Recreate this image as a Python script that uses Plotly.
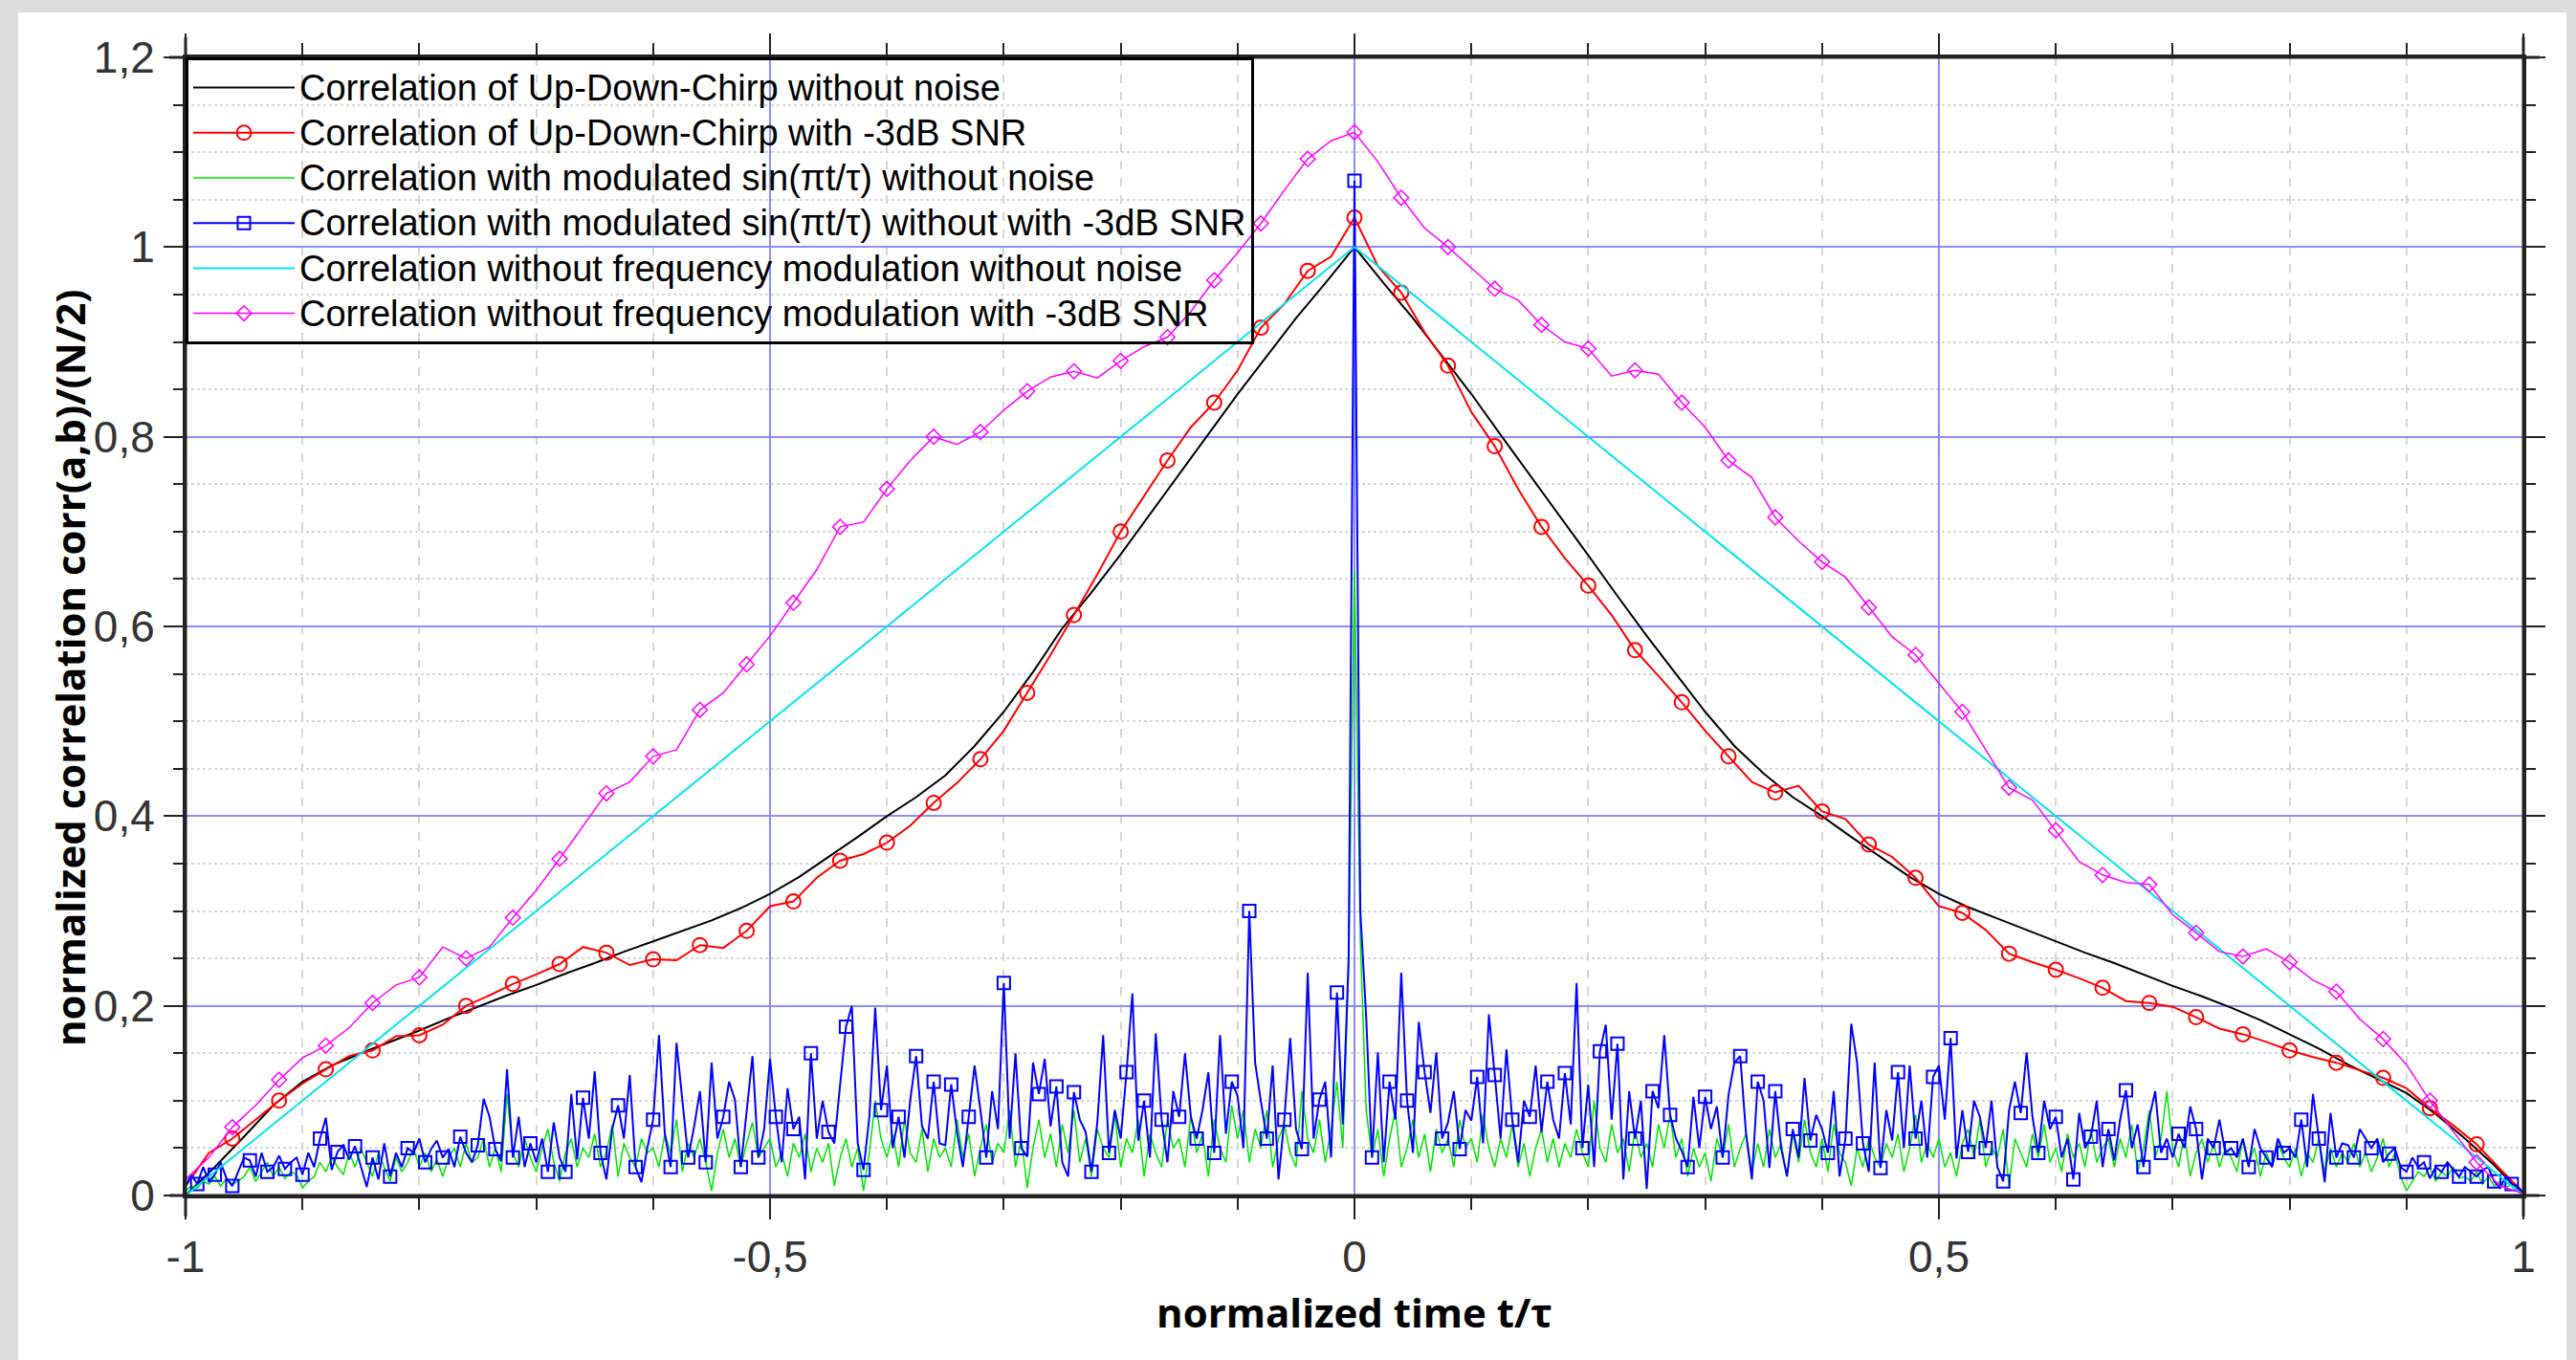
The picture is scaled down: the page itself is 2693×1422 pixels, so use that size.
import plotly.graph_objects as go

# ---------------- data ----------------
X_STEP_COARSE = 0.02
X_STEP_FINE = 0.005
X_STEP_BLACK = 0.025

black_noise_free = [
    0.000, 0.030, 0.062, 0.095, 0.120, 0.137, 0.150, 0.162, 0.174, 0.187,
    0.199, 0.211, 0.222, 0.234, 0.245, 0.257, 0.268, 0.279, 0.290, 0.303,
    0.318, 0.336, 0.357, 0.378, 0.400, 0.420, 0.443, 0.474, 0.510, 0.552,
    0.598, 0.636, 0.676, 0.718, 0.760, 0.802, 0.845, 0.885, 0.925, 0.962,
    1.000,
    0.962, 0.925, 0.885, 0.845, 0.802, 0.760, 0.718, 0.675, 0.632, 0.590,
    0.550, 0.510, 0.474, 0.445, 0.420, 0.400, 0.378, 0.357, 0.336, 0.318,
    0.304, 0.292, 0.280, 0.268, 0.256, 0.245, 0.233, 0.221, 0.210, 0.198,
    0.185, 0.170, 0.155, 0.138, 0.123, 0.108, 0.086, 0.060, 0.032, 0.000,
]

red_noisy = [
    0.010, 0.045, 0.060, 0.080, 0.100, 0.118, 0.133, 0.147, 0.153, 0.168,
    0.169, 0.180, 0.200, 0.211, 0.223, 0.233, 0.244, 0.262, 0.256, 0.243,
    0.249, 0.248, 0.264, 0.261, 0.279, 0.305, 0.310, 0.335, 0.353, 0.360,
    0.372, 0.390, 0.414, 0.435, 0.460, 0.490, 0.530, 0.570, 0.612, 0.655,
    0.700, 0.738, 0.775, 0.810, 0.836, 0.870, 0.915, 0.940, 0.975, 0.990,
    1.031,
    0.980, 0.952, 0.910, 0.875, 0.826, 0.790, 0.745, 0.705, 0.672, 0.643,
    0.612, 0.575, 0.548, 0.520, 0.490, 0.463, 0.436, 0.425, 0.432, 0.405,
    0.397, 0.370, 0.357, 0.335, 0.305, 0.298, 0.280, 0.255, 0.246, 0.238,
    0.229, 0.219, 0.205, 0.203, 0.199, 0.188, 0.176, 0.170, 0.162, 0.153,
    0.146, 0.140, 0.132, 0.124, 0.113, 0.092, 0.074, 0.054, 0.028, 0.003,
]

magenta_noisy = [
    0.017, 0.040, 0.072, 0.095, 0.122, 0.145, 0.158, 0.177, 0.203, 0.222,
    0.230, 0.262, 0.250, 0.262, 0.293, 0.322, 0.355, 0.390, 0.424, 0.436,
    0.463, 0.470, 0.512, 0.530, 0.560, 0.590, 0.625, 0.660, 0.705, 0.710,
    0.745, 0.775, 0.800, 0.792, 0.805, 0.828, 0.848, 0.863, 0.869, 0.862,
    0.880, 0.895, 0.905, 0.932, 0.965, 0.994, 1.025, 1.060, 1.093, 1.112,
    1.121,
    1.090, 1.052, 1.020, 1.000, 0.978, 0.956, 0.944, 0.918, 0.900, 0.893,
    0.864, 0.870, 0.866, 0.836, 0.810, 0.775, 0.757, 0.715, 0.690, 0.668,
    0.652, 0.620, 0.589, 0.570, 0.540, 0.510, 0.470, 0.430, 0.417, 0.385,
    0.352, 0.338, 0.330, 0.328, 0.296, 0.277, 0.257, 0.252, 0.260, 0.246,
    0.227, 0.215, 0.186, 0.165, 0.138, 0.100, 0.068, 0.035, 0.010, 0.002,
]

cyan_x = [-1.0, 0.0, 1.0]
cyan_noise_free = [0.0, 1.0, 0.0]

blue_noisy = [
    0.010, 0.022, 0.012, 0.030, 0.015, 0.022, 0.035, 0.018, 0.010, 0.025,
    0.040, 0.037, 0.020, 0.045, 0.025, 0.030, 0.042, 0.028, 0.035, 0.040,
    0.022, 0.045, 0.030, 0.060, 0.082, 0.027, 0.046, 0.053, 0.038, 0.052,
    0.030, 0.009, 0.040, 0.017, 0.055, 0.020, 0.045, 0.030, 0.050, 0.045,
    0.060, 0.035, 0.049, 0.058, 0.040, 0.049, 0.030, 0.062, 0.045, 0.035,
    0.053, 0.102, 0.083, 0.049, 0.036, 0.133, 0.040, 0.083, 0.030, 0.055,
    0.035, 0.060, 0.025, 0.077, 0.040, 0.025, 0.107, 0.038, 0.103, 0.060,
    0.131, 0.045, 0.017, 0.070, 0.095, 0.060, 0.127, 0.030, 0.014, 0.050,
    0.080, 0.169, 0.065, 0.030, 0.161, 0.101, 0.040, 0.072, 0.110, 0.035,
    0.140, 0.060, 0.083, 0.120, 0.101, 0.030, 0.090, 0.147, 0.040, 0.070,
    0.144, 0.083, 0.035, 0.113, 0.070, 0.083, 0.017, 0.150, 0.060, 0.100,
    0.067, 0.055, 0.117, 0.178, 0.200, 0.055, 0.027, 0.083, 0.198, 0.090,
    0.137, 0.050, 0.083, 0.040, 0.101, 0.147, 0.073, 0.060, 0.120, 0.055,
    0.053, 0.117, 0.067, 0.030, 0.083, 0.137, 0.090, 0.040, 0.110, 0.070,
    0.224, 0.060, 0.150, 0.050, 0.041, 0.140, 0.107, 0.144, 0.073, 0.115,
    0.035, 0.020, 0.109, 0.080, 0.067, 0.025, 0.077, 0.169, 0.045, 0.090,
    0.060, 0.130, 0.213, 0.058, 0.100, 0.040, 0.171, 0.080, 0.035, 0.110,
    0.083, 0.150, 0.083, 0.060, 0.090, 0.130, 0.045, 0.169, 0.065, 0.120,
    0.105, 0.050, 0.300, 0.140, 0.099, 0.060, 0.137, 0.017, 0.080, 0.166,
    0.070, 0.049, 0.235, 0.060, 0.101, 0.120, 0.040, 0.214, 0.075, 0.250,
    1.070, 0.300, 0.188, 0.040, 0.151, 0.035, 0.120, 0.080, 0.235, 0.100,
    0.045, 0.183, 0.130, 0.087, 0.151, 0.060, 0.077, 0.110, 0.049, 0.090,
    0.079, 0.125, 0.055, 0.191, 0.127, 0.060, 0.154, 0.080, 0.035, 0.100,
    0.083, 0.137, 0.067, 0.120, 0.080, 0.060, 0.129, 0.075, 0.224, 0.050,
    0.117, 0.030, 0.152, 0.180, 0.080, 0.160, 0.017, 0.110, 0.060, 0.100,
    0.007, 0.110, 0.092, 0.169, 0.085, 0.060, 0.047, 0.030, 0.104, 0.050,
    0.104, 0.070, 0.094, 0.040, 0.106, 0.140, 0.147, 0.065, 0.017, 0.120,
    0.100, 0.029, 0.110, 0.050, 0.020, 0.070, 0.040, 0.124, 0.058, 0.085,
    0.070, 0.045, 0.110, 0.020, 0.060, 0.181, 0.140, 0.055, 0.025, 0.140,
    0.029, 0.090, 0.058, 0.130, 0.050, 0.137, 0.060, 0.100, 0.040, 0.125,
    0.137, 0.080, 0.166, 0.039, 0.090, 0.046, 0.100, 0.083, 0.050, 0.100,
    0.030, 0.015, 0.090, 0.120, 0.087, 0.151, 0.083, 0.045, 0.100, 0.070,
    0.083, 0.040, 0.060, 0.017, 0.087, 0.050, 0.062, 0.100, 0.030, 0.070,
    0.037, 0.080, 0.111, 0.050, 0.075, 0.030, 0.082, 0.110, 0.045, 0.060,
    0.040, 0.065, 0.050, 0.094, 0.070, 0.017, 0.060, 0.050, 0.080, 0.045,
    0.050, 0.040, 0.060, 0.030, 0.070, 0.050, 0.040, 0.030, 0.060, 0.045,
    0.050, 0.040, 0.080, 0.030, 0.107, 0.060, 0.014, 0.087, 0.040, 0.055,
    0.053, 0.040, 0.070, 0.060, 0.050, 0.060, 0.035, 0.044, 0.050, 0.030,
    0.025, 0.040, 0.030, 0.035, 0.018, 0.030, 0.025, 0.035, 0.028, 0.020,
    0.030, 0.025, 0.020, 0.027, 0.030, 0.015, 0.008, 0.020, 0.012, 0.010,
    0.002,
]

green_noise_free = [
    0.005, 0.010, 0.008, 0.015, 0.012, 0.020, 0.010, 0.018, 0.012, 0.015,
    0.020, 0.030, 0.015, 0.025, 0.035, 0.020, 0.030, 0.018, 0.025, 0.022,
    0.008, 0.015, 0.020, 0.035, 0.025, 0.040, 0.030, 0.022, 0.045, 0.030,
    0.050, 0.035, 0.020, 0.045, 0.030, 0.015, 0.040, 0.025, 0.035, 0.050,
    0.030, 0.045, 0.025, 0.038, 0.020, 0.040, 0.050, 0.030, 0.055, 0.035,
    0.040, 0.060, 0.030, 0.050, 0.025, 0.107, 0.045, 0.030, 0.060, 0.040,
    0.025, 0.050, 0.070, 0.035, 0.015, 0.045, 0.060, 0.030, 0.050, 0.040,
    0.065, 0.030, 0.045, 0.075, 0.020, 0.055, 0.040, 0.030, 0.060, 0.045,
    0.050, 0.030, 0.065, 0.045, 0.080, 0.025, 0.055, 0.040, 0.060, 0.035,
    0.005, 0.045, 0.070, 0.040, 0.060, 0.030, 0.055, 0.077, 0.040, 0.050,
    0.060, 0.030, 0.045, 0.020, 0.055, 0.040, 0.065, 0.025, 0.050, 0.035,
    0.055, 0.010, 0.040, 0.060, 0.030, 0.050, 0.005, 0.045, 0.100, 0.060,
    0.040, 0.065, 0.030, 0.080, 0.045, 0.035, 0.070, 0.025, 0.060, 0.040,
    0.050, 0.030, 0.080, 0.040, 0.065, 0.020, 0.050, 0.075, 0.035, 0.055,
    0.045, 0.090, 0.030, 0.060, 0.008, 0.050, 0.080, 0.040, 0.065, 0.030,
    0.075, 0.045, 0.090, 0.035, 0.060, 0.020, 0.070, 0.050, 0.040, 0.085,
    0.030, 0.060, 0.045, 0.080, 0.020, 0.065, 0.045, 0.030, 0.080, 0.050,
    0.060, 0.030, 0.085, 0.045, 0.065, 0.020, 0.080, 0.050, 0.035, 0.095,
    0.060, 0.090, 0.035, 0.070, 0.050, 0.090, 0.030, 0.060, 0.075, 0.045,
    0.030, 0.110, 0.060, 0.045, 0.080, 0.035, 0.070, 0.120, 0.050, 0.240,
    0.660, 0.270, 0.090, 0.040, 0.070, 0.020, 0.060, 0.090, 0.030, 0.050,
    0.080, 0.040, 0.065, 0.025, 0.070, 0.045, 0.060, 0.030, 0.080, 0.050,
    0.060, 0.035, 0.085, 0.050, 0.030, 0.060, 0.040, 0.075, 0.030, 0.055,
    0.020, 0.050, 0.070, 0.035, 0.060, 0.030, 0.055, 0.040, 0.070, 0.045,
    0.030, 0.100, 0.050, 0.035, 0.075, 0.045, 0.060, 0.025, 0.070, 0.040,
    0.055, 0.030, 0.075, 0.050, 0.085, 0.040, 0.060, 0.020, 0.050, 0.030,
    0.045, 0.015, 0.060, 0.040, 0.075, 0.030, 0.050, 0.065, 0.025, 0.055,
    0.030, 0.070, 0.040, 0.055, 0.020, 0.065, 0.035, 0.080, 0.045, 0.030,
    0.060, 0.025, 0.075, 0.045, 0.035, 0.010, 0.050, 0.030, 0.060, 0.040,
    0.030, 0.055, 0.040, 0.065, 0.025, 0.050, 0.085, 0.035, 0.055, 0.040,
    0.060, 0.030, 0.045, 0.020, 0.055, 0.070, 0.040, 0.080, 0.030, 0.050,
    0.040, 0.070, 0.010, 0.060, 0.045, 0.030, 0.065, 0.040, 0.075, 0.035,
    0.050, 0.025, 0.065, 0.040, 0.055, 0.030, 0.070, 0.035, 0.050, 0.060,
    0.030, 0.060, 0.040, 0.075, 0.025, 0.050, 0.090, 0.040, 0.060, 0.110,
    0.050, 0.030, 0.065, 0.020, 0.045, 0.060, 0.035, 0.055, 0.030, 0.050,
    0.040, 0.025, 0.060, 0.035, 0.050, 0.020, 0.045, 0.030, 0.055, 0.040,
    0.030, 0.050, 0.020, 0.045, 0.035, 0.060, 0.025, 0.050, 0.030, 0.045,
    0.035, 0.055, 0.030, 0.045, 0.025, 0.040, 0.060, 0.030, 0.045, 0.020,
    0.005, 0.015, 0.025, 0.020, 0.030, 0.015, 0.025, 0.020, 0.030, 0.018,
    0.020, 0.015, 0.025, 0.012, 0.020, 0.010, 0.015, 0.008, 0.012, 0.006,
    0.002,
]

series_names = [
    "Correlation of Up-Down-Chirp without noise",
    "Correlation of Up-Down-Chirp with -3dB SNR",
    "Correlation with modulated sin(\u03c0t/\u03c4) without noise",
    "Correlation with modulated sin(\u03c0t/\u03c4) without with -3dB SNR",
    "Correlation without frequency modulation without noise",
    "Correlation without frequency modulation with -3dB SNR",
]

x_tick_vals = [-1, -0.5, 0, 0.5, 1]
x_tick_text = ["-1", "-0,5", "0", "0,5", "1"]
y_tick_vals = [0, 0.2, 0.4, 0.6, 0.8, 1.0, 1.2]
y_tick_text = ["0", "0,2", "0,4", "0,6", "0,8", "1", "1,2"]

x_title = "normalized time t/\u03c4"
y_title = "normalized correlation corr(a,b)/(N/2)"

# ---------------- build x grids ----------------
x_black = [round(-1 + X_STEP_BLACK * i, 4) for i in range(len(black_noise_free))]
x_coarse = [round(-1 + X_STEP_COARSE * i, 4) for i in range(len(red_noisy))]
x_fine = [round(-1 + X_STEP_FINE * i, 4) for i in range(len(blue_noisy))]

coarse_marker_idx = [i for i in range(2, len(x_coarse) - 1, 2)]
fine_marker_idx = [i for i in range(len(x_fine)) if i % 3 == 2]

# ---------------- figure ----------------
W, H = 2693, 1422
L, R, T, B = 194, 55, 60, 172
PW, PH = W - L - R, H - T - B


def px(X):
    return (X - L) / PW


def py(Y):
    return (H - B - Y) / PH


def legend_label(s):
    # legend rows are spaced for a 34px line, text itself drawn at 38px
    return '<span style="font-size:38px">' + s + '</span>'


fig = go.Figure()

fig.add_trace(go.Scatter(
    x=x_black, y=black_noise_free, mode="lines", name=legend_label(series_names[0]),
    line=dict(color="#000000", width=2),
))
fig.add_trace(go.Scatter(
    x=x_coarse, y=red_noisy, mode="lines+markers", name=legend_label(series_names[1]),
    line=dict(color="#ff0000", width=2),
    marker=dict(symbol="circle-open", size=15, color="#ff0000", line=dict(width=2)),
    selectedpoints=coarse_marker_idx,
    selected=dict(marker=dict(opacity=1)),
    unselected=dict(marker=dict(opacity=0)),
))
fig.add_trace(go.Scatter(
    x=x_fine, y=green_noise_free, mode="lines", name=legend_label(series_names[2]),
    line=dict(color="#00e600", width=1.5),
))
fig.add_trace(go.Scatter(
    x=x_fine, y=blue_noisy, mode="lines+markers", name=legend_label(series_names[3]),
    line=dict(color="#0000ff", width=2),
    marker=dict(symbol="square-open", size=13, color="#0000ff", line=dict(width=2)),
    selectedpoints=fine_marker_idx,
    selected=dict(marker=dict(opacity=1)),
    unselected=dict(marker=dict(opacity=0)),
))
fig.add_trace(go.Scatter(
    x=cyan_x, y=cyan_noise_free, mode="lines", name=legend_label(series_names[4]),
    line=dict(color="#00e5ee", width=2),
))
fig.add_trace(go.Scatter(
    x=x_coarse, y=magenta_noisy, mode="lines+markers", name=legend_label(series_names[5]),
    line=dict(color="#ff00ff", width=1.5),
    marker=dict(symbol="diamond-open", size=12, color="#ff00ff", line=dict(width=1.5)),
    selectedpoints=coarse_marker_idx,
    selected=dict(marker=dict(opacity=1)),
    unselected=dict(marker=dict(opacity=0)),
))

axis_color = "#222222"
major_grid = "#8c8cff"
minor_grid = "#d6d6d6"

fig.update_xaxes(
    range=[-1, 1], tickmode="array", tickvals=x_tick_vals, ticktext=x_tick_text,
    ticks="outside", ticklen=22, tickwidth=2, tickcolor=axis_color,
    showline=True, linecolor=axis_color, linewidth=3, mirror="ticks",
    showgrid=True, gridcolor=major_grid, gridwidth=2, zeroline=False,
    minor=dict(dtick=0.1, tick0=0, ticks="outside", ticklen=12, tickwidth=2,
               tickcolor=axis_color, showgrid=True, gridcolor=minor_grid,
               gridwidth=1.5, griddash="dash"),
    tickfont=dict(family="Liberation Sans, Arial, sans-serif", size=46, color="#333333"),
    title=dict(text="<b>" + x_title + "</b>", standoff=20,
               font=dict(family="Open Sans, sans-serif", size=42, color="#000000")),
)
fig.update_yaxes(
    range=[0, 1.2], tickmode="array", tickvals=y_tick_vals, ticktext=y_tick_text,
    ticks="outside", ticklen=20, tickwidth=2, tickcolor=axis_color,
    showline=True, linecolor=axis_color, linewidth=3, mirror="ticks",
    showgrid=True, gridcolor=major_grid, gridwidth=2, zeroline=False,
    minor=dict(dtick=0.05, tick0=0, ticks="outside", ticklen=10, tickwidth=2,
               tickcolor=axis_color, showgrid=True, gridcolor=minor_grid,
               gridwidth=1.5, griddash="dot"),
    tickfont=dict(family="Liberation Sans, Arial, sans-serif", size=46, color="#333333"),
)

gray = "#dcdcdc"
shapes = [
    dict(type="rect", xref="paper", yref="paper", x0=px(-5), x1=px(19), y0=py(H + 5), y1=py(-5),
         fillcolor=gray, line=dict(width=0), layer="below"),
    dict(type="rect", xref="paper", yref="paper", x0=px(-5), x1=px(W + 5), y0=py(13), y1=py(-5),
         fillcolor=gray, line=dict(width=0), layer="below"),
    dict(type="rect", xref="paper", yref="paper", x0=px(2683), x1=px(W + 5), y0=py(H + 5), y1=py(-5),
         fillcolor=gray, line=dict(width=0), layer="below"),
    dict(type="line", xref="paper", yref="paper", x0=px(177), x1=px(2655), y0=0, y1=0,
         line=dict(color=axis_color, width=3)),
    dict(type="line", xref="paper", yref="paper", x0=px(177), x1=px(2655), y0=1, y1=1,
         line=dict(color=axis_color, width=3)),
    dict(type="line", xref="paper", yref="paper", x0=0, x1=0, y0=py(1272), y1=py(39),
         line=dict(color=axis_color, width=3)),
    dict(type="line", xref="paper", yref="paper", x0=1, x1=1, y0=py(1272), y1=py(39),
         line=dict(color=axis_color, width=3)),
]

annotations = [
    dict(text="<b>" + y_title + "</b>", xref="paper", yref="paper",
         x=px(72), y=py(699), xanchor="center", yanchor="middle",
         textangle=-90, showarrow=False,
         font=dict(family="Open Sans, sans-serif", size=42, color="#000000")),
]

fig.update_layout(
    width=W, height=H,
    margin=dict(l=L, r=R, t=T, b=B, pad=0),
    paper_bgcolor="#ffffff", plot_bgcolor="#ffffff",
    shapes=shapes,
    annotations=annotations,
    showlegend=True,
    legend=dict(
        x=0, y=1, xanchor="left", yanchor="top",
        bgcolor="rgba(255,255,255,0)", bordercolor="#000000", borderwidth=3,
        font=dict(family="Liberation Sans, Arial, sans-serif", size=34, color="#000000"),
        itemwidth=106, tracegroupgap=0,
    ),
)

fig.write_html(
    "out.html", config={"displayModeBar": False},
    post_script=("document.body.style.margin='0';"
                 "document.body.style.overflow='hidden';"
                 "document.documentElement.style.overflow='hidden';"),
)
